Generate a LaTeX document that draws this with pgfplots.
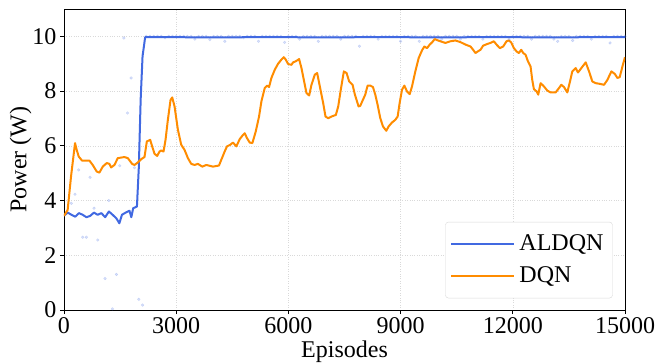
\documentclass[border=0pt]{standalone}
\usepackage{fontspec}
\setmainfont{Liberation Serif}
\usepackage{pgfplots}
\pgfplotsset{compat=1.18}
\definecolor{royalblue}{RGB}{65,105,225}
\definecolor{darkorange}{RGB}{255,140,0}
\begin{document}
\begin{tikzpicture}
\begin{axis}[
  scale only axis, width=561pt, height=301pt,
  xmin=0, xmax=15000, ymin=0, ymax=11,
  xtick={0,3000,6000,9000,12000,15000},
  ytick={0,2,4,6,8,10},
  scaled x ticks=false,
  /pgf/number format/1000 sep={},
  /pgf/number format/assume math mode=true,
  tick label style={font=\fontsize{24}{28}\selectfont},
  label style={font=\fontsize{24}{28}\selectfont},
  tick align=outside, tick pos=left,
  major tick length=4pt,
  every tick/.style={black, line width=0.8pt},
  axis line style={black, line width=0.8pt},
  grid=major,
  major grid style={dotted, gray!30, line width=0.6pt},
  xlabel={Episodes}, ylabel={Power (W)},
  xlabel style={yshift=0pt},
  ylabel style={yshift=-6pt},
  legend style={at={(0.978,0.039)}, anchor=south east,
    draw=gray!30, rounded corners=3pt, fill=white,
    font=\fontsize{24}{28}\selectfont, inner xsep=5pt, inner ysep=6pt,
    row sep=0pt,
    nodes={inner sep=4pt, text height=18pt, text depth=6pt}},
  legend cell align=left,
  legend image code/.code={\path (0pt,0pt) -- (63pt,0pt); \draw[#1, line width=2pt] (0pt,0pt) -- (50pt,0pt);},
]
% raw ALDQN points (faint)
\addplot[only marks, mark=*, mark size=1.4pt, color=royalblue, opacity=0.2, forget plot] coordinates {
(196,3.9) (295,4.23) (393,5.12) (500,2.66) (598,2.66) (697,4.85) (804,3.72) (902,2.56)
(1098,1.15) (1197,4.0) (1295,0.04) (1402,1.3) (1491,5.27) (1600,9.94) (1697,7.2) (1795,8.48)
(1884,5.2) (2000,0.39) (2100,0.18)
(2200,10.0) (2300,10.0) (2400,10.0) (2500,10.0) (2600,10.0) (2700,9.95) (2800,10.0) (2900,10.0)
(3000,10.0) (3100,10.0) (3200,10.0) (3300,10.0) (3400,10.0) (3500,9.9) (3600,10.0) (3700,10.0)
(3800,10.0) (3900,9.88) (4000,10.0) (4100,10.0) (4200,10.0) (4300,9.82) (4400,10.0) (4500,10.0)
(4600,10.0) (4700,10.0) (4800,9.95) (4900,10.0) (5000,10.0) (5100,10.0) (5200,9.82) (5300,10.0)
(5400,10.0) (5500,10.0) (5600,10.0) (5700,10.0) (5800,10.0) (5900,9.78) (6000,10.0) (6100,10.0)
(6200,10.0) (6300,9.9) (6400,10.0) (6500,10.0) (6600,10.0) (6700,10.0) (6800,9.82) (6900,10.0)
(7000,10.0) (7100,10.0) (7200,10.0) (7300,10.0) (7400,9.9) (7500,10.0) (7600,10.0) (7700,10.0)
(7800,10.0) (7900,9.64) (8000,10.0) (8100,10.0) (8200,10.0) (8300,10.0) (8400,9.9) (8500,10.0)
(8600,10.0) (8700,10.0) (8800,10.0) (8900,10.0) (9000,9.82) (9100,10.0) (9200,10.0) (9300,10.0)
(9400,10.0) (9500,9.82) (9600,10.0) (9700,10.0) (9800,10.0) (9900,10.0) (10000,10.0) (10100,9.9)
(10200,10.0) (10300,10.0) (10400,10.0) (10500,10.0) (10600,9.9) (10700,10.0) (10800,10.0) (10900,10.0)
(11000,10.0) (11100,10.0) (11200,9.9) (11300,10.0) (11400,10.0) (11500,10.0) (11600,10.0) (11700,10.0)
(11800,10.0) (11900,9.9) (12000,10.0) (12100,10.0) (12200,10.0) (12300,10.0) (12400,10.0) (12500,9.9)
(12600,10.0) (12700,10.0) (12800,10.0) (12900,10.0) (13000,10.0) (13100,9.9) (13200,9.82) (13300,10.0)
(13400,10.0) (13500,10.0) (13600,9.85) (13700,10.0) (13800,10.0) (13900,10.0) (14000,10.0) (14100,9.9)
(14200,10.0) (14300,10.0) (14400,10.0) (14500,10.0) (14600,9.76) (14700,10.0) (14800,10.0) (14900,10.0)
(15000,10.0)
};
% ALDQN smoothed
\addplot[color=royalblue, line width=2pt, line join=round] coordinates {
(0,3.45) (100,3.56) (200,3.48) (300,3.41) (400,3.54) (500,3.48) (600,3.39) (700,3.44)
(800,3.56) (900,3.48) (1000,3.54) (1100,3.39) (1200,3.60) (1300,3.48) (1400,3.35) (1480,3.17)
(1550,3.48) (1650,3.56) (1750,3.63) (1800,3.39) (1850,3.72) (1950,3.78) (2000,5.2) (2050,7.7)
(2100,9.27) (2170,9.97) (3000,9.97) (4000,9.96) (5000,9.97) (6000,9.97) (7000,9.96) (8000,9.97)
(9000,9.97) (10000,9.96) (11000,9.97) (12000,9.97) (13000,9.96) (14000,9.97) (15000,9.97)
};
\addlegendentry{ALDQN}
% DQN smoothed
\addplot[color=darkorange, line width=2pt, line join=round] coordinates {
(0,3.44) (98,3.66) (188,4.88) (295,6.10) (340,5.85) (393,5.61) (482,5.46) (679,5.46)
(768,5.30) (875,5.06) (947,5.02) (1036,5.24) (1143,5.37) (1214,5.34) (1259,5.21) (1348,5.30)
(1438,5.55) (1616,5.59) (1706,5.55) (1822,5.34) (1884,5.30) (1973,5.39) (2063,5.51) (2152,5.59)
(2215,6.16) (2304,6.22) (2357,5.98) (2420,5.71) (2491,5.63) (2554,5.79) (2599,5.83) (2661,5.79)
(2715,6.22) (2777,6.95) (2849,7.68) (2893,7.77) (2956,7.44) (3045,6.59) (3134,6.04) (3224,5.85)
(3313,5.55) (3402,5.34) (3492,5.30) (3581,5.34) (3697,5.24) (3804,5.30) (3893,5.27) (3983,5.24)
(4144,5.28) (4206,5.49) (4295,5.79) (4358,5.98) (4447,6.04) (4518,6.12) (4608,5.98) (4697,6.24)
(4769,6.37) (4831,6.46) (4894,6.28) (4965,6.12) (5037,6.10) (5126,6.52) (5215,7.07) (5278,7.62)
(5367,8.11) (5429,8.20) (5483,8.15) (5546,8.48) (5635,8.78) (5724,9.00) (5813,9.15) (5876,9.24)
(5929,9.15) (5992,8.99) (6081,8.96) (6126,9.05) (6197,9.09) (6287,9.17) (6349,8.84) (6412,8.41)
(6483,7.93) (6555,7.84) (6617,8.23) (6706,8.60) (6769,8.66) (6840,8.17) (6930,7.56) (6992,7.07)
(7063,7.01) (7153,7.07) (7269,7.13) (7332,7.44) (7403,8.07) (7483,8.72) (7555,8.66) (7626,8.35)
(7716,8.23) (7778,7.87) (7876,7.44) (7921,7.46) (7992,7.68) (8055,7.87) (8117,8.20) (8189,8.20)
(8260,8.15) (8323,7.87) (8385,7.50) (8457,7.01) (8528,6.71) (8617,6.55) (8680,6.71) (8769,6.85)
(8858,6.95) (8921,7.07) (8974,7.56) (9037,8.05) (9100,8.20) (9171,7.99) (9243,7.89) (9305,8.17)
(9394,8.72) (9484,9.21) (9573,9.49) (9635,9.63) (9707,9.57) (9778,9.70) (9841,9.78) (9912,9.90)
(10001,9.85) (10109,9.80) (10198,9.76) (10332,9.82) (10466,9.85) (10600,9.79) (10734,9.70) (10868,9.63)
(10939,9.51) (11002,9.39) (11064,9.45) (11136,9.51) (11207,9.66) (11314,9.72) (11404,9.76) (11493,9.82)
(11564,9.70) (11654,9.57) (11743,9.63) (11832,9.82) (11895,9.85) (11957,9.78) (12029,9.57) (12100,9.45)
(12163,9.39) (12225,9.51) (12279,9.39) (12341,9.33) (12404,9.09) (12475,8.90) (12520,8.41) (12564,8.07)
(12636,7.99) (12680,7.87) (12743,8.29) (12814,8.20) (12922,8.02) (13011,7.95) (13145,7.95) (13234,8.11)
(13297,8.23) (13368,8.15) (13457,7.95) (13529,8.35) (13591,8.72) (13681,8.84) (13743,8.68) (13832,8.84)
(13949,9.05) (14038,8.72) (14127,8.35) (14216,8.29) (14306,8.27) (14440,8.23) (14529,8.41) (14636,8.72)
(14725,8.63) (14797,8.48) (14859,8.51) (14931,8.90) (15000,9.24)
};
\addlegendentry{DQN}
\end{axis}
\pgfresetboundingbox
\path ([xshift=-64pt,yshift=-52pt]current axis.south west) rectangle ([xshift=32pt,yshift=9pt]current axis.north east);
\end{tikzpicture}
\end{document}
